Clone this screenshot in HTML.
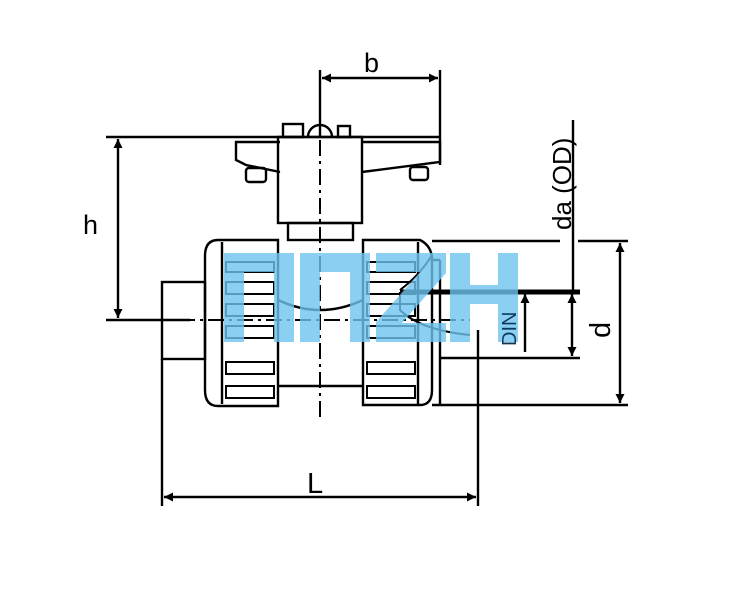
<!DOCTYPE html>
<html><head><style>html,body{margin:0;padding:0;background:#fff}svg{display:block}</style></head><body>
<svg width="738" height="596" viewBox="0 0 738 596" xmlns="http://www.w3.org/2000/svg">
<defs><marker id="a" viewBox="0 0 10 10" refX="10" refY="5" markerWidth="14" markerHeight="9" orient="auto-start-reverse" markerUnits="userSpaceOnUse"><path d="M0,0L10,5L0,10z" fill="#000"/></marker></defs>
<g stroke="#000" stroke-width="2.4" fill="none">
<line x1="320" y1="70" x2="320" y2="137"/><line x1="440" y1="70" x2="440" y2="165"/>
<line x1="322" y1="78" x2="438" y2="78" marker-start="url(#a)" marker-end="url(#a)"/>
<line x1="106" y1="137" x2="440" y2="137"/>
<line x1="106" y1="320" x2="190" y2="320"/>
<line x1="118" y1="139" x2="118" y2="318" marker-start="url(#a)" marker-end="url(#a)"/>
<rect x="283" y="124" width="20" height="13"/><rect x="338" y="126" width="12" height="11"/>
<path d="M308,137 A12,12 0 0 1 332,137"/>
<path d="M280,142 L236,142 L236,160 L246,165 L280,172"/>
<path d="M362,142 L440,142 L440,162 L362,172"/>
<rect x="246" y="168" width="20" height="14" rx="3"/><rect x="410" y="167" width="18" height="13" rx="3"/>
<rect x="278" y="137" width="84" height="86"/>
<rect x="288" y="223" width="65" height="17"/>
<rect x="162" y="282" width="43" height="77"/>
<path d="M218,240 L278,240 L278,406 L218,406 Q205,406 205,390 L205,256 Q205,240 218,240Z"/>
<line x1="222" y1="242" x2="222" y2="404"/>
<path d="M363,240 L420,240 Q432,246 432,260 L432,390 Q432,405 420,405 L363,405Z"/>
<line x1="418" y1="242" x2="418" y2="404"/>
<line x1="278" y1="386" x2="363" y2="386"/>
<line x1="432" y1="260" x2="440" y2="260"/><line x1="440" y1="260" x2="440" y2="405"/>
<path d="M278,300 Q320,320 363,300"/>
</g>
<g stroke="#000" stroke-width="2" fill="none">
<rect x="226" y="262" width="48" height="10"/><rect x="226" y="282" width="48" height="12"/><rect x="226" y="304" width="48" height="12"/><rect x="226" y="326" width="48" height="12"/><rect x="226" y="362" width="48" height="12"/><rect x="226" y="386" width="48" height="12"/>
<rect x="367" y="262" width="48" height="10"/><rect x="367" y="282" width="48" height="12"/><rect x="367" y="304" width="48" height="12"/><rect x="367" y="326" width="48" height="12"/><rect x="367" y="362" width="48" height="12"/><rect x="367" y="386" width="48" height="12"/>
</g>
<g stroke="#000" stroke-width="2" stroke-dasharray="16,5,3,5">
<line x1="320" y1="140" x2="320" y2="422"/>
<line x1="150" y1="320" x2="470" y2="320"/>
</g>
<g stroke="#000" stroke-width="2.4" fill="none">
<line x1="573" y1="120" x2="573" y2="292"/>
<line x1="432" y1="241" x2="560" y2="241"/><line x1="578" y1="241" x2="628" y2="241"/>
<line x1="432" y1="405" x2="628" y2="405"/>
<line x1="440" y1="358" x2="580" y2="358"/>
<line x1="620" y1="243" x2="620" y2="403" marker-start="url(#a)" marker-end="url(#a)"/>
<line x1="572" y1="294" x2="572" y2="356" marker-start="url(#a)" marker-end="url(#a)"/>
<line x1="525" y1="352" x2="525" y2="294" marker-end="url(#a)"/>
<line x1="478" y1="330" x2="478" y2="506"/>
<line x1="162" y1="359" x2="162" y2="506"/>
<line x1="164" y1="497" x2="476" y2="497" marker-start="url(#a)" marker-end="url(#a)"/>
</g>
<line x1="400" y1="292" x2="580" y2="292" stroke="#000" stroke-width="5"/>
<path d="M400,290 Q420,275 432,255 M400,292 L400,310 Q420,330 470,335" stroke="#000" stroke-width="2" fill="none"/>
<g fill="rgba(110,195,240,0.8)">
<path d="M224,253h70v89h-20v-70h-30v70h-20z"/>
<path d="M300,253h70v89h-20v-70h-30v70h-20z"/>
<path d="M376,253h70v20l-44,50h44v19h-70v-20l44,-50h-44z"/>
<path d="M450,253h20v32h28v-32h20v89h-20v-38h-28v38h-20z"/>
</g>
<g font-family="Liberation Sans, sans-serif" fill="#000">
<text x="364" y="72" font-size="27">b</text>
<text x="83" y="234" font-size="27">h</text>
<text x="307" y="493" font-size="29">L</text>
<text transform="translate(610,338) rotate(-90)" font-size="29">d</text>
<text transform="translate(571,230) rotate(-90)" font-size="26">da (OD)</text>
<text transform="translate(516,346) rotate(-90)" font-size="20" fill="#0a3a5a">DIN</text>
</g>
</svg>
</body></html>
